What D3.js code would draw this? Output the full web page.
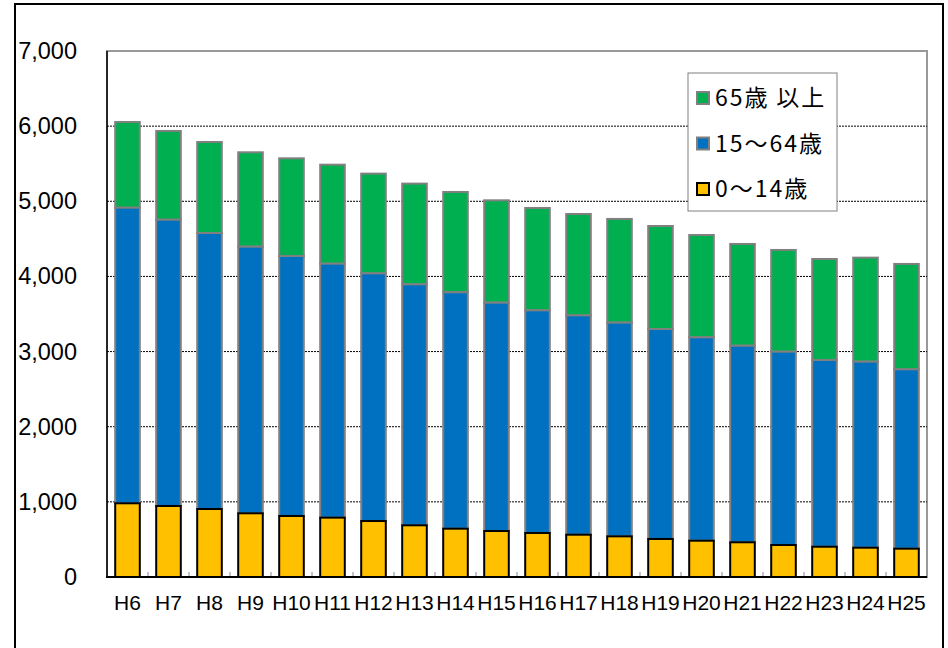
<!DOCTYPE html>
<html>
<head>
<meta charset="utf-8">
<script src="https://cdn.jsdelivr.net/npm/d3@7"></script>
<style>
body { margin: 0; background: #fff; }
svg { display: block; }
</style>
</head>
<body>
<svg id="chart" width="948" height="648"></svg>
<script>
// years (Heisei)
var categories = ["H6","H7","H8","H9","H10","H11","H12","H13","H14","H15","H16","H17","H18","H19","H20","H21","H22","H23","H24","H25"];
// 0-14
var young = [981,945,905,848,812,790,745,688,643,612,586,563,541,506,483,462,426,403,390,377];
// 15-64
var working = [3934,3810,3673,3548,3460,3380,3296,3207,3146,3039,2963,2919,2844,2794,2707,2616,2573,2485,2476,2387];
// 65+
var elderly = [1140,1181,1211,1256,1300,1317,1327,1340,1335,1362,1362,1349,1380,1371,1361,1354,1353,1344,1384,1402];
var y_ticks = [0,1000,2000,3000,4000,5000,6000,7000];
var legend_labels = ["65歳\u2009以上","15～64歳","0～14歳"];

var svg = d3.select("#chart");

// outer chart border
svg.append("rect")
    .attr("x", 15).attr("y", 4)
    .attr("width", 928).attr("height", 660)
    .attr("fill", "#fff")
    .attr("stroke", "#000")
    .attr("stroke-width", 2);

var plot_left = 107, plot_right = 927, plot_top = 51, plot_bottom = 577;

var x = d3.scaleBand()
    .domain(categories)
    .range([plot_left, plot_right])
    .padding(0);

var y = d3.scaleLinear()
    .domain([0, 7000])
    .range([plot_bottom, plot_top]);

// plot area border (gray)
svg.append("rect")
    .attr("x", plot_left).attr("y", plot_top)
    .attr("width", plot_right - plot_left).attr("height", plot_bottom - plot_top)
    .attr("fill", "none")
    .attr("stroke", "#999")
    .attr("stroke-width", 2);

// grid lines
svg.append("g")
    .selectAll("line")
    .data(y_ticks.filter(function(d) { return d > 0 && d < 7000; }))
    .join("line")
    .attr("x1", plot_left).attr("x2", plot_right)
    .attr("y1", function(d) { return y(d); })
    .attr("y2", function(d) { return y(d); })
    .attr("stroke", "#000")
    .attr("stroke-width", 1)
    .attr("stroke-dasharray", "2,1");

// stack
var rows = categories.map(function(c, i) {
    return { cat: c, young: young[i], working: working[i], elderly: elderly[i] };
});
var keys = ["young", "working", "elderly"];
var fills = { young: "#FFC000", working: "#0070C0", elderly: "#00B050" };
var strokes = { young: "#000", working: "#808080", elderly: "#808080" };
var stacked = d3.stack().keys(keys)(rows);

var bar_w = x.bandwidth() * 0.6;

svg.append("g")
    .selectAll("g")
    .data(stacked.slice().reverse())
    .join("g")
    .attr("fill", function(s) { return fills[s.key]; })
    .attr("stroke", function(s) { return strokes[s.key]; })
    .attr("stroke-width", 2)
    .selectAll("rect")
    .data(function(s) { return s; })
    .join("rect")
    .attr("x", function(d) { return x(d.data.cat) + (x.bandwidth() - bar_w) / 2; })
    .attr("width", bar_w)
    .attr("y", function(d) { return y(d[1]); })
    .attr("height", function(d) { return y(d[0]) - y(d[1]); });

// x axis
var x_axis = svg.append("g")
    .attr("transform", "translate(0," + plot_bottom + ")")
    .call(d3.axisBottom(x).tickSize(0).tickPadding(18));
x_axis.select(".domain").remove();
x_axis.selectAll("text")
    .attr("font-family", "Liberation Sans, Arial, sans-serif")
    .attr("font-size", 21)
    .attr("fill", "#000");

// x ticks at band boundaries (pointing up)
svg.append("g")
    .selectAll("line")
    .data(categories.slice(1))
    .join("line")
    .attr("x1", function(d) { return x(d); })
    .attr("x2", function(d) { return x(d); })
    .attr("y1", plot_bottom).attr("y2", plot_bottom - 5)
    .attr("stroke", "#888")
    .attr("stroke-width", 1);

svg.append("line")
    .attr("x1", plot_left - 1).attr("x2", plot_right)
    .attr("y1", plot_bottom).attr("y2", plot_bottom)
    .attr("stroke", "#000").attr("stroke-width", 2);

// y axis
var y_axis = svg.append("g")
    .attr("transform", "translate(" + plot_left + ",0)")
    .call(d3.axisLeft(y).tickValues(y_ticks).tickSize(0).tickPadding(30).tickFormat(d3.format(",")));
y_axis.select(".domain").remove();
y_axis.selectAll("text")
    .attr("font-family", "Liberation Sans, Arial, sans-serif")
    .attr("font-size", 23.5)
    .attr("fill", "#000");

svg.append("line")
    .attr("x1", plot_left).attr("x2", plot_left)
    .attr("y1", plot_top).attr("y2", plot_bottom)
    .attr("stroke", "#000").attr("stroke-width", 1.5);

// legend
var legend = svg.append("g");
legend.append("rect")
    .attr("x", 688).attr("y", 73)
    .attr("width", 149).attr("height", 138)
    .attr("fill", "#fff")
    .attr("stroke", "#808080")
    .attr("stroke-width", 1);

var legend_keys = ["elderly", "working", "young"];
var item = legend.selectAll("g.item")
    .data(legend_keys)
    .join("g")
    .attr("class", "item")
    .attr("transform", function(d, i) { return "translate(697," + (98 + i * 45.5) + ")"; });

item.append("rect")
    .attr("x", 0).attr("y", -6)
    .attr("width", 12).attr("height", 12)
    .attr("fill", function(d) { return fills[d]; })
    .attr("stroke", function(d) { return strokes[d]; })
    .attr("stroke-width", 2);

item.append("text")
    .attr("x", 18).attr("y", 0)
    .attr("dy", "0.36em")
    .attr("font-family", "Noto Sans CJK JP, sans-serif")
    .attr("font-size", 23)
    .attr("letter-spacing", 2)
    .attr("fill", "#000")
    .text(function(d, i) { return legend_labels[i]; });
</script>
</body>
</html>
